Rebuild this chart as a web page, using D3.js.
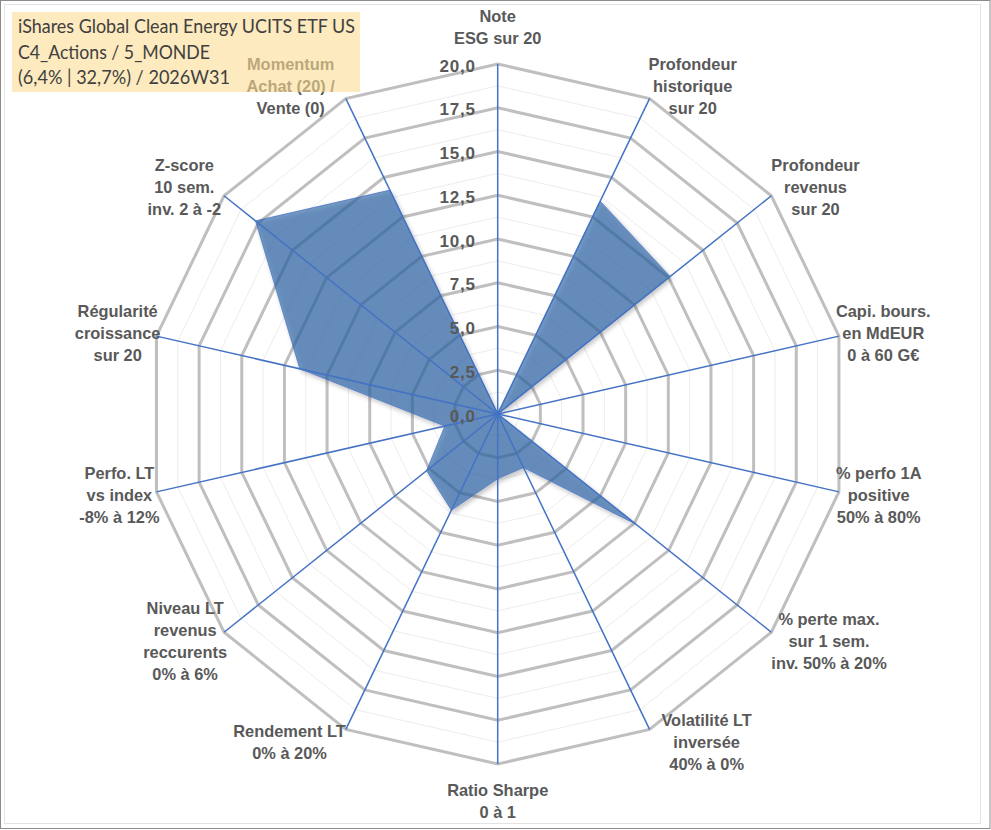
<!DOCTYPE html>
<html>
<head>
<meta charset="utf-8">
<script src="https://cdn.jsdelivr.net/npm/d3@7"></script>
<style>
  html, body { margin: 0; padding: 0; background: #ffffff; }
  svg { display: block; }
  .lbl { font-family: "Liberation Sans", Arial, Helvetica, sans-serif; font-weight: bold; }
  .ttl { font-family: Lato, "Open Sans", sans-serif; }
</style>
</head>
<body>
<svg id="chart" width="991" height="830"></svg>
<script>
// ---------- DATA ----------
const categories = [
  ["Note", "ESG sur 20"],
  ["Profondeur", "historique", "sur 20"],
  ["Profondeur", "revenus", "sur 20"],
  ["Capi. bours.", "en MdEUR", "0 à 60 G€"],
  ["% perfo 1A", "positive", "50% à 80%"],
  ["% perte max.", "sur 1 sem.", "inv. 50% à 20%"],
  ["Volatilité LT", "inversée", "40% à 0%"],
  ["Ratio Sharpe", "0 à 1"],
  ["Rendement LT", "0% à 20%"],
  ["Niveau LT", "revenus", "reccurents", "0% à 6%"],
  ["Perfo. LT", "vs index", "-8% à 12%"],
  ["Régularité", "croissance", "sur 20"],
  ["Z-score", "10 sem.", "inv. 2 à -2"],
  ["Momentum", "Achat (20) /", "Vente (0)"]
];
const values = [0, 13.5, 12.6, 0, 0, 10.1, 3.4, 3.7, 6.1, 5.2, 3.1, 11.6, 17.7, 14.2];
const tickValues = [0, 2.5, 5, 7.5, 10, 12.5, 15, 17.5, 20];
const tickLabels = ["0,0", "2,5", "5,0", "7,5", "10,0", "12,5", "15,0", "17,5", "20,0"];
const minorValues = [1.25, 3.75, 6.25, 8.75, 11.25, 13.75, 16.25, 18.75];
const titleLines = [
  "iShares Global Clean Energy UCITS ETF US",
  "C4_Actions / 5_MONDE",
  "(6,4% | 32,7%) / 2026W31"
];

// ---------- LAYOUT ----------
const W = 991, H = 830;
const cx = 497.7, cy = 414, R = 350;
// small horizontal nudges of the category labels (layout only)
const labelNudgeX = [0, -1, 0, -3, -3, 0, 12, 0, 0, 3, 3, 4, -3, -11];
const svg = d3.select("#chart");

const r = d3.scaleLinear().domain([0, 20]).range([0, R]);
const n = categories.length;
const angle = d3.scaleLinear().domain([0, n]).range([0, 2 * Math.PI]);

const defs = svg.append("defs");
const f = defs.append("filter").attr("id", "shadow")
  .attr("x", "-10%").attr("y", "-10%").attr("width", "130%").attr("height", "130%");
f.append("feDropShadow").attr("dx", 2).attr("dy", 2.5).attr("stdDeviation", 2.2)
  .attr("flood-color", "#000").attr("flood-opacity", 0.35);

// frame
svg.append("rect").attr("x", 0.5).attr("y", 0.5).attr("width", W - 1.5).attr("height", H - 2)
  .attr("fill", "#fff").attr("stroke", "#8c8c8c").attr("stroke-width", 1);
svg.append("rect").attr("x", 4.5).attr("y", 4.5).attr("width", 976).attr("height", 819)
  .attr("fill", "none").attr("stroke", "#e3e3e3").attr("stroke-width", 1);

const g = svg.append("g").attr("transform", `translate(${cx},${cy})`);

const ring = v => d3.lineRadial()
  .angle((d, i) => angle(i))
  .radius(() => r(v))
  .curve(d3.curveLinearClosed)(categories);

// minor grid
g.selectAll("path.minor").data(minorValues).join("path")
  .attr("class", "minor")
  .attr("d", d => ring(d))
  .attr("fill", "none").attr("stroke", "#ececec").attr("stroke-width", 1);

// major grid
g.selectAll("path.major").data(tickValues.filter(v => v > 0)).join("path")
  .attr("class", "major")
  .attr("d", d => ring(d))
  .attr("fill", "none").attr("stroke", "#bfbfbf").attr("stroke-width", 3)
  .attr("stroke-linejoin", "miter");

// data polygon
const area = d3.lineRadial()
  .angle((d, i) => angle(i))
  .radius(d => r(d))
  .curve(d3.curveLinearClosed);
g.append("path")
  .attr("d", area(values))
  .attr("fill", "#2e64a8").attr("fill-opacity", 0.64)
  .attr("stroke", "#4472c4").attr("stroke-width", 1).attr("stroke-opacity", 0.7)
  .attr("filter", "url(#shadow)");

// spokes
g.selectAll("line.spoke").data(categories).join("line")
  .attr("class", "spoke")
  .attr("x1", 0).attr("y1", 0)
  .attr("x2", (d, i) => r(20) * Math.sin(angle(i)))
  .attr("y2", (d, i) => -r(20) * Math.cos(angle(i)))
  .attr("stroke", "#4472c4").attr("stroke-width", 1.5);

// tick labels
g.selectAll("text.tick").data(tickValues).join("text")
  .attr("class", "tick lbl")
  .attr("x", -22)
  .attr("y", d => -r(d) + 7.5)
  .attr("text-anchor", "end")
  .attr("font-size", 17)
  .attr("letter-spacing", 0.8)
  .attr("fill", "#595959")
  .text((d, i) => tickLabels[i]);

// category labels
const lineH = 22;
categories.forEach((lines, i) => {
  const a = angle(i), s = Math.sin(a), c = Math.cos(a);
  const ex = r(20) * s, ey = -r(20) * c;
  const t = g.append("text")
    .attr("class", "lbl")
    .attr("font-size", 16.4)
    .attr("fill", "#595959").attr("text-anchor", "middle");
  lines.forEach(l => t.append("tspan").text(l));
  let w = 0;
  t.selectAll("tspan").each(function () { w = Math.max(w, this.getComputedTextLength()); });
  let dx, dy;
  if (Math.abs(s) < 0.1) { dx = 0; dy = -c * 37; }
  else { dx = Math.sign(s) * w / 2; dy = -c * 14; }
  const bx = ex + dx + labelNudgeX[i], by = ey + dy;
  const top = by - (lines.length - 1) * lineH / 2;
  t.selectAll("tspan")
    .attr("x", bx)
    .attr("y", (d, k) => top + k * lineH + 6);
});

// title box (semi-transparent, over labels)
svg.append("rect").attr("x", 12).attr("y", 12).attr("width", 348).attr("height", 80)
  .attr("fill", "rgb(252,220,147)").attr("fill-opacity", 0.6);
const title = svg.append("text")
  .attr("class", "ttl")
  .attr("font-size", 18.5).attr("fill", "#404040");
const titleWidths = [337, 192, 212];
titleLines.forEach((l, k) => {
  title.append("tspan").attr("x", 18).attr("y", 33 + k * 25.5)
    .attr("textLength", titleWidths[k]).attr("lengthAdjust", "spacingAndGlyphs")
    .text(l);
});
</script>
</body>
</html>
